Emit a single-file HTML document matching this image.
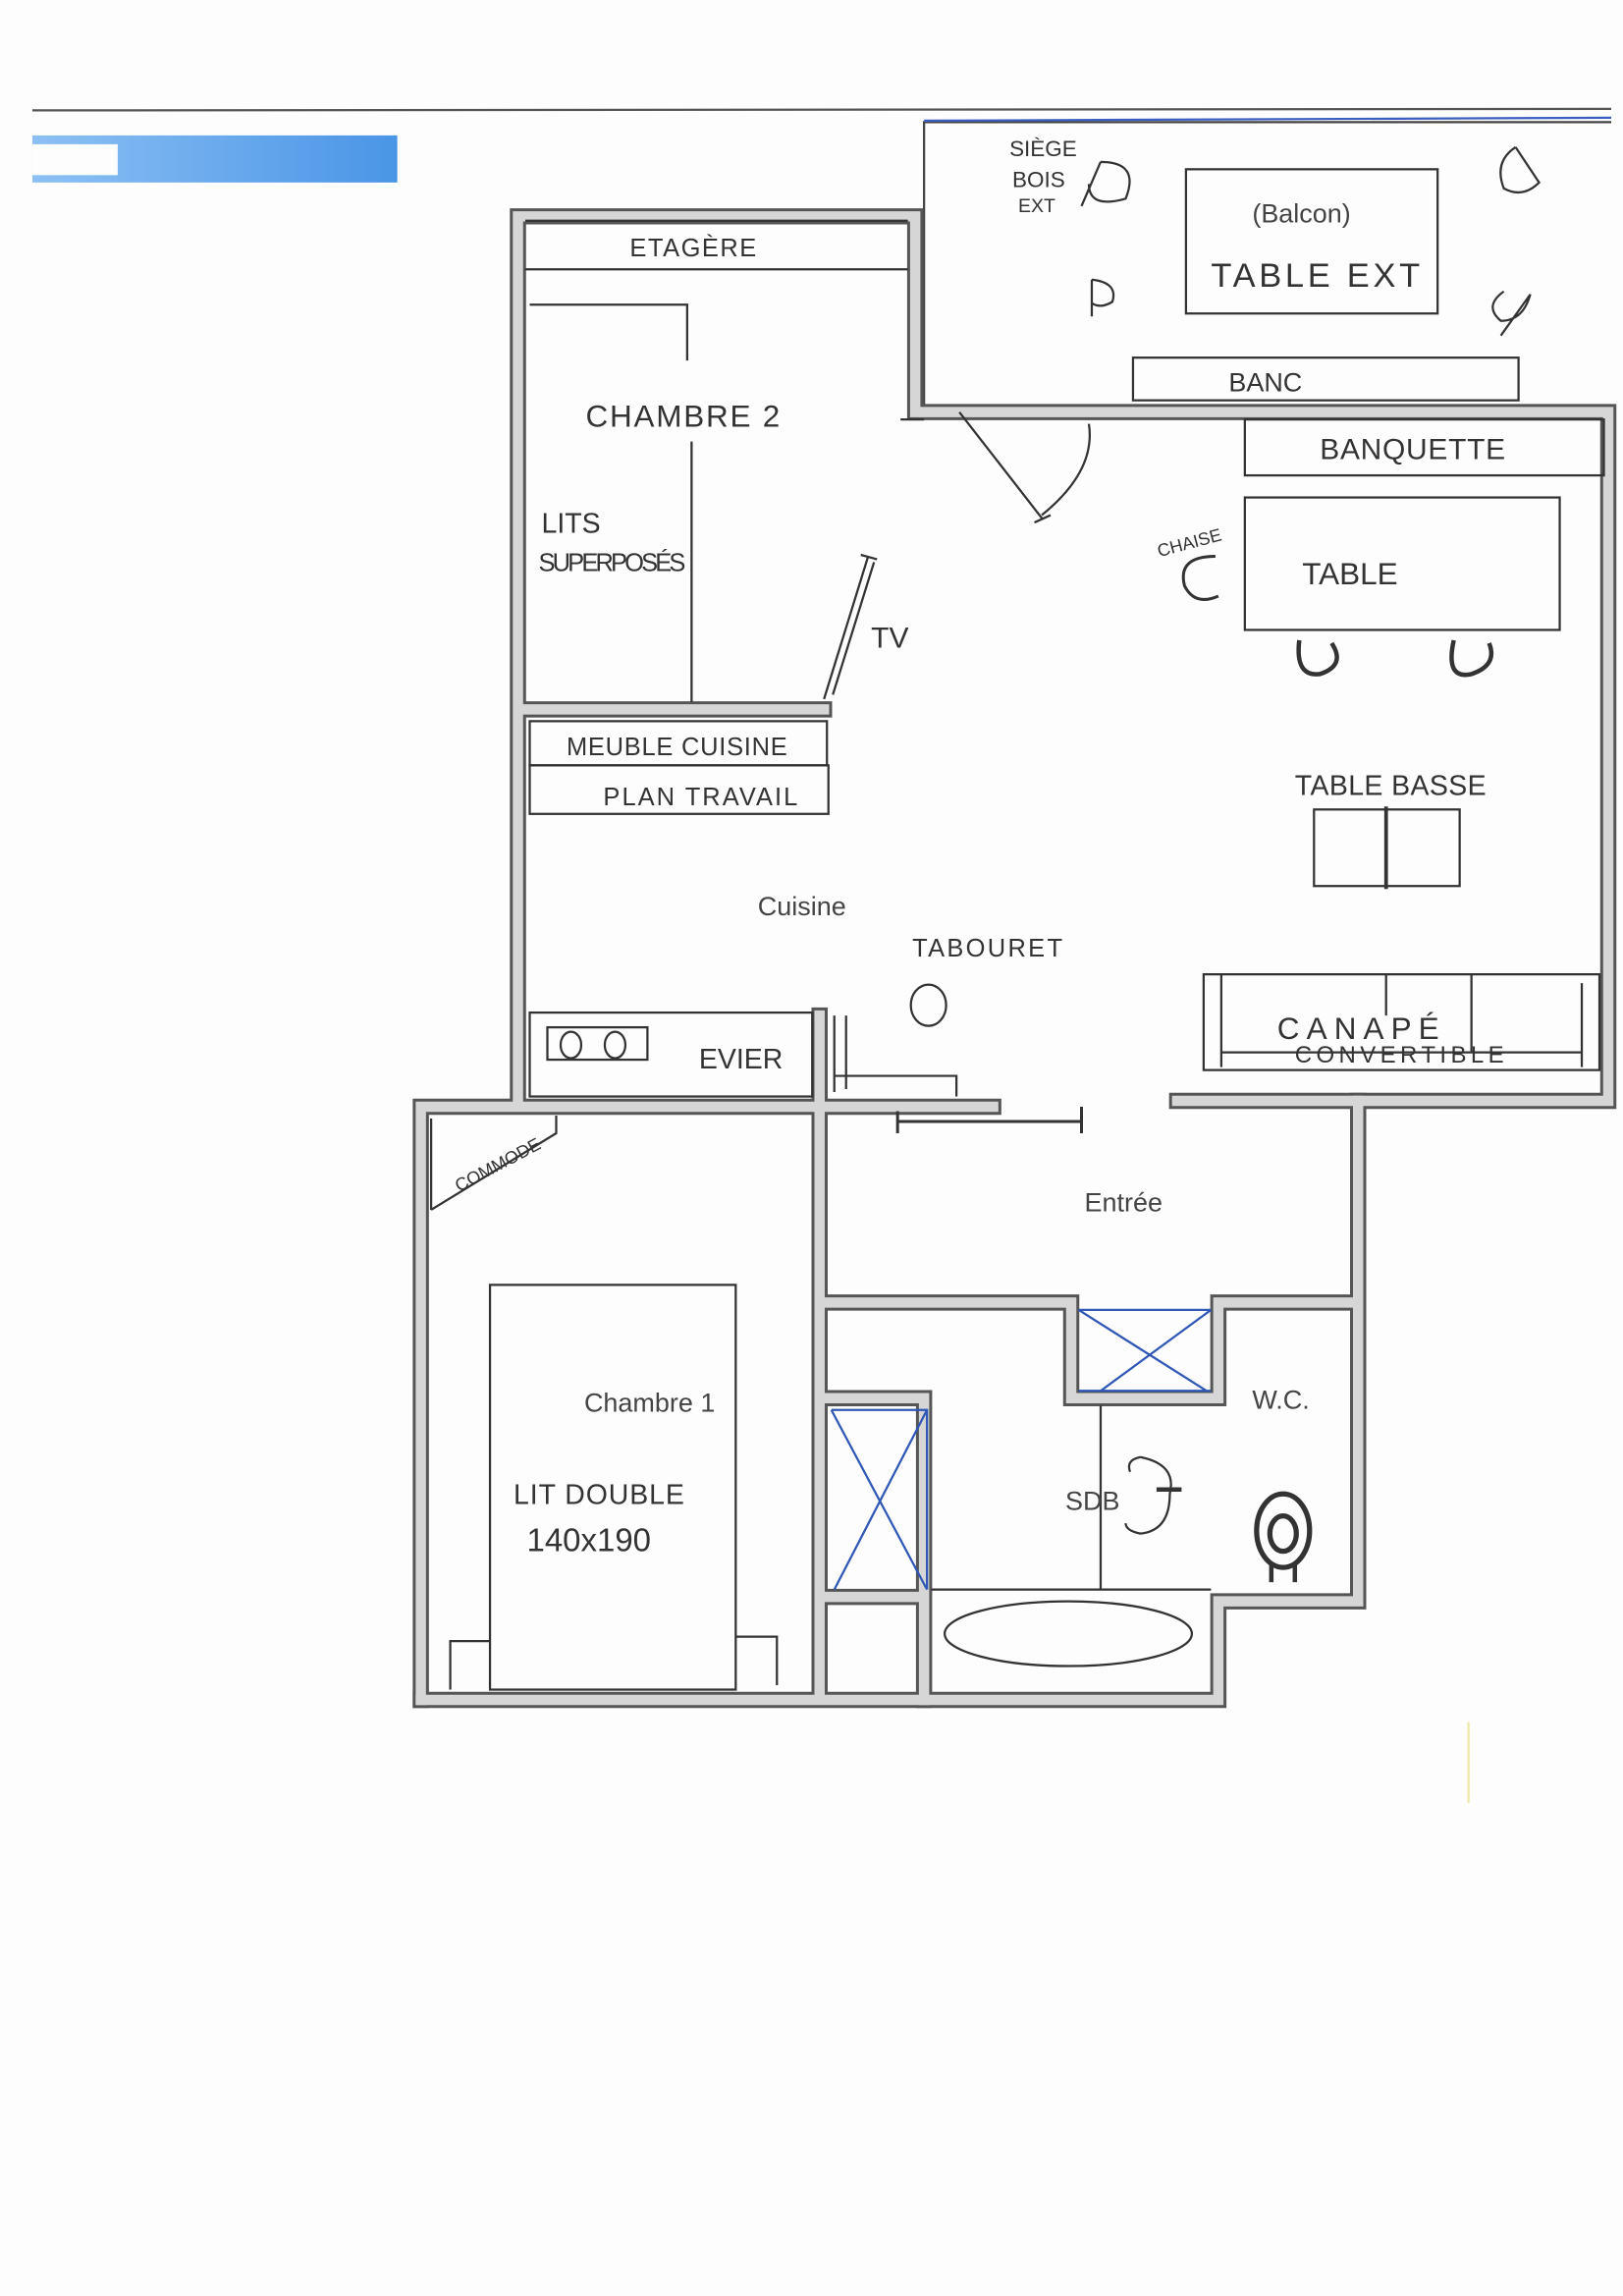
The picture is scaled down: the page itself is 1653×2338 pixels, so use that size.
<!DOCTYPE html>
<html><head><meta charset="utf-8"><style>
html,body{margin:0;padding:0;background:#fdfdfd;}
svg{display:block;}
.h{font-family:"Liberation Sans Narrow","Liberation Sans",sans-serif;fill:#333;font-size:17px;}
.p{font-family:"Liberation Sans",sans-serif;fill:#444;font-size:18px;}
</style></head><body>
<svg width="1653" height="2338" viewBox="0 0 1103 1560" preserveAspectRatio="none" xmlns="http://www.w3.org/2000/svg">
<rect width="1103" height="1560" fill="#fdfdfd"/>
<!-- header -->
<line x1="22" y1="75" x2="1095" y2="74" stroke="#555" stroke-width="1.5"/>
<defs><linearGradient id="g" x1="0" x2="1"><stop offset="0" stop-color="#8cc0f4"/><stop offset="1" stop-color="#4a95e6"/></linearGradient></defs>
<rect x="22" y="92" width="248" height="32" fill="url(#g)"/>
<rect x="22" y="98" width="58" height="21" fill="#fdfdfd"/>
<line x1="998" y1="1170" x2="998" y2="1225" stroke="#efe9a8" stroke-width="1.5"/>

<!-- balcony -->
<path d="M628 275 V83 H1095" fill="none" stroke="#444" stroke-width="1.5"/>
<line x1="628" y1="82" x2="1095" y2="80" stroke="#3a5fc0" stroke-width="1.5"/>

<!-- walls: dark outline -->
<g fill="none" stroke-linecap="square" stroke-linejoin="miter">
<g stroke="#555" stroke-width="11">
<path d="M352 748 V147 H622 V280 H1093 V748 H800"/>
<path d="M286 1155 V752 H675"/>
<path d="M923 748 V885 M557 748 V1155 M286 1155 H828 V1088 H923 V885 H828 V950 H728 V885 H557"/>
<path d="M557 950 H628 V1155 M557 1085 H628"/>
<path d="M357 482 H560"/>
<path d="M557 690 V748"/>
</g>
<g stroke="#d6d6d6" stroke-width="7">
<path d="M352 748 V147 H622 V280 H1093 V748 H800"/>
<path d="M286 1155 V752 H675"/>
<path d="M923 748 V885 M557 748 V1155 M286 1155 H828 V1088 H923 V885 H828 V950 H728 V885 H557"/>
<path d="M557 950 H628 V1155 M557 1085 H628"/>
<path d="M357 482 H560"/>
<path d="M557 690 V748"/>
</g>
</g>

<g fill="none" stroke="#333" stroke-width="1.5">
<!-- chambre 2 -->
<path d="M357 150 H617 M357 183 H617"/>
<path d="M360 207 H467 V245 M470 300 V477"/>
<path d="M560 475 L590 378 M566 472 L594 382 M585 377 L596 380"/>
<path d="M612 285 H628"/>
<path d="M652 280 L708 352 M703 355 L714 350"/>
<path d="M708 350 Q745 320 740 288"/>
<!-- kitchen -->
<rect x="360" y="490" width="202" height="30"/>
<rect x="360" y="520" width="203" height="33"/>
<rect x="360" y="688" width="192" height="57"/>
<rect x="372" y="698" width="68" height="22"/>
<ellipse cx="388" cy="710" rx="7" ry="9"/><ellipse cx="418" cy="710" rx="7" ry="9"/>
<path d="M567 690 V742 M575 690 V740 M567 731 H650 V745"/>
<ellipse cx="631" cy="683" rx="12" ry="14"/>
<path d="M610 755 V770 M610 762 H735 M735 752 V770" stroke-width="2"/>
<!-- living -->
<rect x="846" y="285" width="244" height="38"/>
<rect x="846" y="338" width="214" height="90"/>
<rect x="893" y="550" width="99" height="52"/>
<path d="M942 548 V604" stroke-width="2.5"/>
<path d="M818 662 H1087 V727 H818 Z M830 662 V725 M1075 668 V725 M830 715 H1075 M942 662 V690 M1000 662 V715"/>
<path d="M883 435 Q880 460 897 458 Q915 452 905 437" stroke-width="3"/>
<path d="M988 435 Q982 462 1000 458 Q1018 452 1012 437" stroke-width="3"/>
<path d="M826 378 Q800 378 805 398 Q812 412 828 405" stroke-width="2"/>
<!-- balcony -->
<rect x="806" y="115" width="171" height="98"/>
<rect x="770" y="243" width="262" height="29"/>
<path d="M748 110 Q775 110 765 135 Q740 142 740 125 M748 110 L735 140"/>
<path d="M742 190 V215 M742 190 Q760 192 756 205 Q748 210 742 206"/>
<path d="M1030 100 Q1015 110 1022 128 Q1035 135 1046 124 L1030 100"/>
<path d="M1022 198 Q1008 208 1020 218 Q1035 218 1040 200 L1020 228"/>
<!-- chambre 1 -->
<path d="M293 822 L378 770 V758 M293 760 V822"/>
<rect x="333" y="873" width="167" height="275"/>
<path d="M306 1148 V1115 H333 M500 1112 H528 V1145"/>
<!-- bath -->
<path d="M748 955 V1080 M633 1080 H823"/>
<ellipse cx="726" cy="1110" rx="84" ry="22"/>
<path d="M775 990 Q800 995 795 1015 Q795 1040 775 1042 Q765 1040 765 1035 M775 990 Q765 992 768 1000"/>
<path d="M786 1012 H803" stroke-width="3"/>
<!-- wc -->
<ellipse cx="872" cy="1040" rx="18" ry="25" stroke-width="3.5"/>
<ellipse cx="872" cy="1042" rx="9" ry="12" stroke-width="3.5"/>
<path d="M864 1062 V1075 M880 1062 V1075" stroke-width="3"/>
</g>
<!-- blue crosses -->
<g fill="none" stroke="#2f57b5" stroke-width="1.5">
<path d="M733 890 H823 M733 890 L820 945 M823 890 L748 945 M733 945 H823"/>
<path d="M565 958 H630 V1080 M565 958 L630 1080 M630 958 L567 1080"/>
</g>

<!-- handwritten labels -->
<g class="h">
<text x="428" y="174" textLength="86">ETAGÈRE</text>
<text x="398" y="290" font-size="21" textLength="132">CHAMBRE 2</text>
<text x="368" y="362" font-size="19">LITS</text>
<text x="366" y="388" textLength="100">SUPERPOSÉS</text>
<text x="592" y="440" font-size="20">TV</text>
<text x="385" y="513" textLength="150">MEUBLE CUISINE</text>
<text x="410" y="547" textLength="132">PLAN TRAVAIL</text>
<text x="620" y="650" textLength="102">TABOURET</text>
<text x="475" y="726" font-size="19">EVIER</text>
<text x="897" y="312" font-size="20" textLength="126">BANQUETTE</text>
<text x="786" y="375" font-size="12" transform="rotate(-15 800 370)">CHAISE</text>
<text x="885" y="397" font-size="21">TABLE</text>
<text x="880" y="540" font-size="19" textLength="130">TABLE   BASSE</text>
<text x="868" y="706" font-size="21" textLength="110">CANAPÉ</text>
<text x="880" y="722" font-size="16" textLength="142">CONVERTIBLE</text>
<text x="686" y="106" font-size="15">SIÈGE</text>
<text x="688" y="127" font-size="15">BOIS</text>
<text x="692" y="144" font-size="13">EXT</text>
<text x="823" y="195" font-size="23" textLength="142">TABLE  EXT</text>
<text x="835" y="266" font-size="18">BANC</text>
<text x="300" y="798" font-size="12" transform="rotate(-28 330 780)">COMMODE</text>
<text x="349" y="1022" font-size="19" textLength="116">LIT  DOUBLE</text>
<text x="358" y="1054" font-size="22">140x190</text>
</g>
<g class="p">
<text x="515" y="622">Cuisine</text>
<text x="737" y="823">Entrée</text>
<text x="851" y="151">(Balcon)</text>
<text x="397" y="959">Chambre 1</text>
<text x="724" y="1026">SDB</text>
<text x="851" y="957">W.C.</text>
</g>
</svg>
</body></html>
